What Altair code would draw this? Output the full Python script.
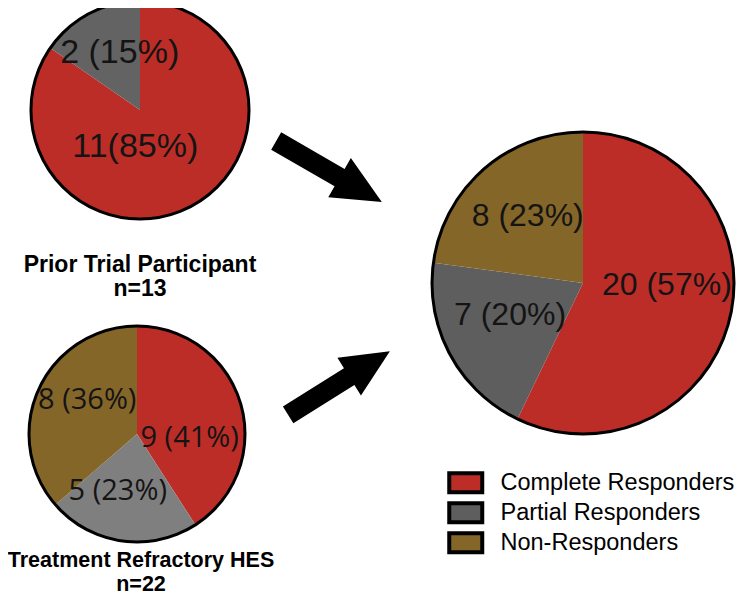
import altair as alt
import pandas as pd

# ---- data ----
categories = ["Complete Responders", "Partial Responders", "Non-Responders"]

prior_counts = [11, 2]
prior_labels = ["11(85%)", "2 (15%)"]

refractory_counts = [9, 5, 8]
refractory_labels = ["9 (41%)", "5 (23%)", "8 (36%)"]

combined_counts = [20, 7, 8]
combined_labels = ["20 (57%)", "7 (20%)", "8 (23%)"]

prior_title = "Prior Trial Participant\nn=13"
refractory_title = "Treatment Refractory HES\nn=22"

# ---- styles ----
RED = "#BD2D27"
BROWN = "#846628"
M = 8  # page margin: reference pixel coords -> chart coords

ARROW = "M-1,-0.164L0.2,-0.164L0.2,-0.37L1,0L0.2,0.37L0.2,0.164L-1,0.164Z"
LEGEND_SYMBOL = "M-1.737,-1H1.737V1H-1.737Z"


def frame(counts, labels):
    return pd.DataFrame({
        "category": categories[:len(counts)],
        "count": counts,
        "label": labels,
        "order": list(range(len(counts))),
    })


def pie(counts, labels, cx, cy, r, gray, label_r, font, size, nudges, legend):
    data = frame(counts, labels)
    base = alt.Chart(data)
    px, py = alt.value(cx - M), alt.value(cy - M)
    slices = base.mark_arc(radius=r).encode(
        theta=alt.Theta("count:Q", stack=True),
        color=alt.Color("category:N",
                        scale=alt.Scale(domain=categories, range=[RED, gray, BROWN]),
                        legend=legend),
        order=alt.Order("order:Q"),
        x=px, y=py,
    )
    layers = [slices]
    mids = base.transform_window(
        cum="sum(count)", sort=[alt.SortField("order")], frame=[None, 0]
    ).transform_calculate(mid="datum.cum - datum.count / 2")
    for i, (dx, dy) in enumerate(nudges):
        layers.append(
            mids.transform_filter(alt.datum.order == i).mark_text(
                radius=label_r, font=font, fontSize=size, color="#141414",
                dx=dx, dy=dy,
            ).encode(
                theta=alt.Theta("mid:Q", stack=None),
                text="label:N",
                x=px, y=py,
            )
        )
    outline = alt.Chart(pd.DataFrame({"k": [0]})).mark_arc(
        radius=r, theta=0, theta2=6.2832, fillOpacity=0,
        stroke="black", strokeWidth=3,
    ).encode(x=px, y=py)
    layers.append(outline)
    return alt.layer(*layers)


def arrow(cx, cy, length, angle):
    return alt.Chart(pd.DataFrame({"k": [0]})).mark_point(
        shape=ARROW, size=length ** 2, angle=angle, filled=True,
        color="black", opacity=1, strokeWidth=0,
    ).encode(x=alt.value(cx - M), y=alt.value(cy - M))


def title(text, cx, y, lh, size):
    return alt.Chart(pd.DataFrame({"t": [text]})).mark_text(
        font="Liberation Sans", fontWeight="bold", fontSize=size,
        align="center", baseline="alphabetic", lineBreak="\n",
        lineHeight=lh, color="black",
    ).encode(text="t:N", x=alt.value(cx - M), y=alt.value(y - M))


legend = alt.Legend(
    title=None, orient="none", legendX=446, legendY=463,
    symbolType=LEGEND_SYMBOL, symbolSize=361,
    symbolStrokeColor="black", symbolStrokeWidth=4, symbolOpacity=1,
    labelFont="Liberation Sans", labelFontSize=23.5, labelColor="black",
    labelOffset=23, labelLimit=400, rowPadding=-11, padding=0,
)

pie1 = pie(prior_counts, prior_labels, 140, 110, 109, "#636363", 48,
           "Liberation Sans", 34, [(-27, -6), (2, -14)], None)
pie2 = pie(refractory_counts, refractory_labels, 137, 434, 108, "#7F7F7F", 58,
           "Open Sans", 29, [(-3, 20), (-11, 0), (3, -10)], None)
pie3 = pie(combined_counts, combined_labels, 583, 283, 151, "#5E5E5E", 84,
           "Liberation Sans", 32, [(2, -17), (1, -8), (0, -4)], legend)

chart = alt.layer(
    pie1, pie2, pie3,
    arrow(329, 171.5, 122, 30),
    arrow(339, 383, 120, 328),
    title(prior_title, 140, 272, 24, 23),
    title(refractory_title, 141, 567, 24, 21.5),
).resolve_scale(
    theta="independent", color="independent"
).properties(
    width=731, height=588, padding=0,
    autosize=alt.AutoSizeParams(type="none"),
).configure_view(strokeWidth=0)

chart.save("out.html", embed_options={"renderer": "svg", "actions": False})
